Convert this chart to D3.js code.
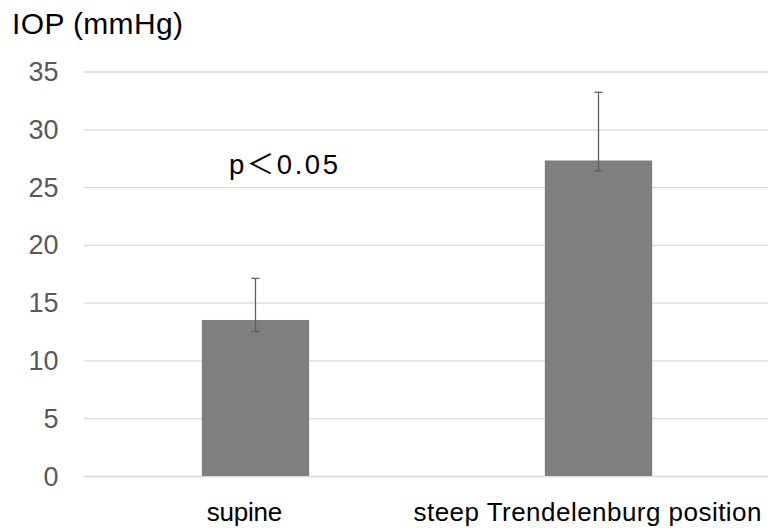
<!DOCTYPE html>
<html lang="en">
  <head>
    <meta charset='UTF-8'>
    <title>IOP chart</title>
    <script src="https://d3js.org/d3.v7.min.js"></script>
    <style>
      body { margin: 0; background: #fff; }
      text { font-family: "Liberation Sans", Arial, "Noto Sans CJK JP", sans-serif; }
    </style>
  </head>
  <body>
    <svg class="main-svg" width="768" height="528"></svg>
    <script>
    var categories = ["supine", "steep Trendelenburg position"];
    var means = [13.5, 27.3];
    var errUpper = [17.1, 33.2];
    var errLower = [12.5, 26.4];
    var yTicks = [0, 5, 10, 15, 20, 25, 30, 35];

    var svg = d3.select("svg");
    var plotLeft = 84, plotRight = 770, plotTop = 71.5, plotBottom = 476;
    var labelWidths = [75.5, 348];

    var x = d3.scaleBand().domain(categories).range([plotLeft, plotRight]).paddingInner(0.687).paddingOuter(0.3435);
    var y = d3.scaleLinear().domain([0, 35]).range([plotBottom, plotTop]);

    // gridlines
    svg.append("g")
      .attr("transform", "translate(" + plotLeft + ",0)")
      .call(d3.axisLeft(y).tickValues(yTicks).tickSize(-(plotRight - plotLeft)).tickFormat(""))
      .call(g => g.select(".domain").remove())
      .call(g => g.selectAll("line").attr("stroke", "#d9d9d9").attr("stroke-width", 1.3));

    // tick labels
    svg.append("g")
      .selectAll("text")
      .data(yTicks)
      .enter()
      .append("text")
      .attr("x", 58.5)
      .attr("y", d => y(d) + 9.5)
      .attr("text-anchor", "end")
      .style("font-size", "27px")
      .style("fill", "#595959")
      .text(d => d);

    // bars
    svg.append("g")
      .selectAll("rect")
      .data(categories)
      .enter()
      .append("rect")
      .attr("x", d => x(d))
      .attr("width", x.bandwidth())
      .attr("y", (d, i) => y(means[i]))
      .attr("height", (d, i) => y(0) - y(means[i]))
      .style("fill", "#7f7f7f");

    // error bars
    var eb = svg.append("g").attr("stroke", "#5f5f5f").attr("stroke-width", 1.3);
    categories.forEach(function(c, i) {
      var cx = x(c) + x.bandwidth() / 2;
      eb.append("line").attr("x1", cx).attr("x2", cx).attr("y1", y(errUpper[i])).attr("y2", y(errLower[i]));
      eb.append("line").attr("x1", cx - 4).attr("x2", cx + 4).attr("y1", y(errUpper[i])).attr("y2", y(errUpper[i]));
      eb.append("line").attr("x1", cx - 4).attr("x2", cx + 4).attr("y1", y(errLower[i])).attr("y2", y(errLower[i]));
    });

    // category labels
    svg.append("g")
      .selectAll("text")
      .data(categories)
      .enter()
      .append("text")
      .attr("x", (d, i) => x(d) + x.bandwidth() / 2 - 11 - labelWidths[i] / 2)
      .attr("y", 521)
      .attr("textLength", (d, i) => labelWidths[i])
      .attr("lengthAdjust", "spacing")
      .style("font-size", "26px")
      .style("fill", "#000")
      .text(d => d);

    svg.append("text")
      .attr("x", 12)
      .attr("y", 34)
      .attr("textLength", 171)
      .attr("lengthAdjust", "spacing")
      .style("font-size", "30px")
      .style("fill", "#000")
      .text("IOP (mmHg)");

    svg.append("text")
      .attr("x", 229)
      .attr("y", 174.3)
      .attr("textLength", 109)
      .attr("lengthAdjust", "spacing")
      .style("font-size", "27.5px")
      .style("fill", "#000")
      .text("p＜0.05");
    </script>
  </body>
</html>
